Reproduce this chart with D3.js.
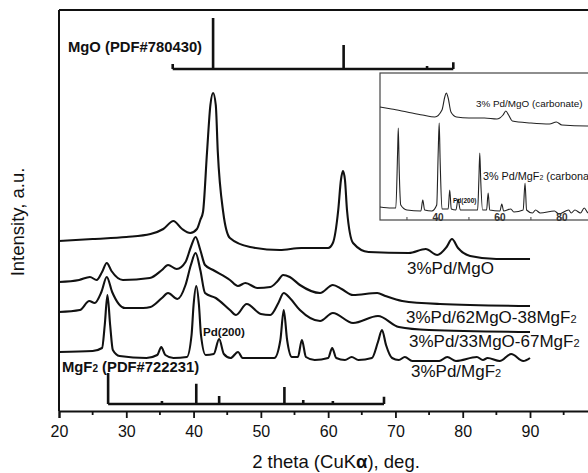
<!DOCTYPE html>
<html>
<head>
<meta charset="utf-8">
<script src="https://cdn.jsdelivr.net/npm/d3@7"></script>
<style>
  html, body { margin: 0; padding: 0; background: #fff; }
  svg { display: block; font-family: "Liberation Sans", Arial, sans-serif; }
  .curve { fill: none; stroke: #111; stroke-width: 2.1; stroke-linejoin: round; }
  .inset-curve { fill: none; stroke: #222; stroke-width: 1.1; stroke-linejoin: round; }
  .ref { fill: none; stroke: #111; stroke-width: 2.6; }
</style>
</head>
<body>
<svg id="chart" width="588" height="473"></svg>
<script>
// 2 theta (deg), intensity (a.u.)
const pdMgO = [
  [20, 170], [25, 172], [30, 174], [33.6, 177], [35.5, 182], [37.0, 190], [38.3, 182],
  [39.5, 178], [40.5, 182], [41.0, 191], [41.4, 199], [42.0, 259], [42.5, 306], [42.9, 318],
  [43.3, 306], [43.6, 259], [44.4, 199], [45.4, 173], [48.4, 164], [52.8, 161], [56, 163],
  [60.0, 163], [60.7, 168], [61.5, 201], [61.9, 231], [62.2, 240], [62.5, 231], [62.8, 201],
  [63.7, 168], [66, 159], [72, 158], [74.5, 162], [76.2, 156], [77.6, 164], [78.4, 172],
  [79.3, 163], [81.1, 155], [85, 152], [90, 152]
];
const pd62MgO = [
  [20, 129], [23.0, 131], [24.6, 134], [25.6, 131], [26.4, 139], [27.1, 148], [27.8, 140],
  [29.5, 131], [33.5, 133], [35.3, 141], [36.2, 146], [37.5, 142], [38.8, 149], [39.6, 164],
  [40.3, 174], [41.0, 161], [41.7, 146], [42.9, 141], [45.4, 131], [46.6, 125], [47.7, 128],
  [49.5, 123], [51.4, 124], [52.5, 130], [53.3, 136], [54.3, 134], [55.8, 126], [58.8, 118],
  [60.7, 126], [62, 122], [63.7, 116], [67.3, 118], [68.5, 115], [71, 110], [76.6, 107], [90, 105]
];
const pd33MgO = [
  [20, 99], [23.1, 101], [24.5, 110], [25.3, 108], [26.3, 119], [27.1, 134], [27.9, 119],
  [29.8, 103], [32.5, 103], [33.6, 104], [35.3, 113], [36.2, 118], [37.6, 112], [38.8, 126],
  [39.6, 146], [40.3, 158], [41.0, 141], [41.7, 118], [43.3, 113], [45.4, 101], [46.3, 96],
  [47.9, 107], [50.0, 97], [51.4, 96], [52.6, 108], [53.4, 118], [54.3, 113], [55.8, 101],
  [58.8, 90], [60.7, 98], [63.7, 88], [67.4, 95], [70.5, 84], [75, 81], [90, 79]
];
const pdMgF2 = [
  [20, 59], [25.0, 60], [26.4, 63], [26.8, 86], [27.2, 116], [27.6, 86], [28.0, 61], [29, 55],
  [33, 53], [34.6, 56], [35.2, 64], [35.8, 56], [37, 53], [39.0, 54], [39.7, 76], [40.0, 106],
  [40.4, 125], [40.8, 106], [41.1, 76], [41.8, 56], [43.0, 57], [43.8, 72], [44.5, 57],
  [45.5, 53], [46.6, 59], [47.3, 53], [52.0, 53], [52.9, 71], [53.4, 101], [53.9, 71],
  [54.6, 54], [55.5, 54], [56.1, 71], [56.7, 54], [58, 51], [60.0, 53], [60.6, 63], [61.2, 53],
  [62.5, 51], [63.5, 54], [64.5, 51], [66.5, 53], [67.4, 69], [68.0, 81], [68.6, 66],
  [69.5, 53], [70.5, 51], [71.4, 54], [72.5, 50], [76.5, 50], [77.7, 54], [79, 50], [82.1, 54],
  [83.0, 51], [83.7, 53], [85.5, 50], [87.2, 57], [89, 50], [90, 53]
];

// reference patterns: positions (deg) and relative intensities
const mgoRefPos = [36.9, 42.9, 62.3, 74.7, 78.6];
const mgoRefInt = [10, 100, 47, 6, 13];
const mgf2RefPos = [27.3, 35.3, 40.4, 43.8, 53.5, 56.3, 60.7, 68.3];
const mgf2RefInt = [100, 10, 65, 26, 55, 13, 10, 23];

// inset (carbonate precursors)
const insetMgO = [
  [21.3, 113], [25, 111], [30, 108], [35, 105], [39, 103], [41.3, 110], [42.2, 123], [42.7, 127],
  [43.3, 122], [44.2, 108], [46, 103], [50, 102], [55, 102], [59, 101], [61.0, 105], [61.9, 109],
  [62.8, 105], [64, 99], [70, 97], [76, 96], [78.2, 98], [80, 95], [88, 94], [91, 94]
];
const insetMgF2 = [
  [21.3, 13], [25, 12], [26.4, 12], [27.0, 70], [27.2, 92], [27.5, 50], [28.0, 15], [30, 10],
  [34.5, 9], [35.1, 20], [35.7, 10], [38, 9], [39.6, 15], [40.1, 70], [40.4, 97], [40.7, 60],
  [41.3, 11], [43.3, 11], [43.8, 30], [44.3, 11], [45.8, 10], [46.5, 21], [47.2, 10], [52.8, 10],
  [53.2, 40], [53.5, 67], [53.8, 40], [54.4, 10], [55.7, 10], [56.2, 27], [56.7, 10], [60.0, 9],
  [60.6, 16], [61.2, 9], [63.5, 11], [64.5, 8], [67.5, 10], [68.1, 37], [68.6, 10], [70.5, 7],
  [71.5, 10], [73, 7], [77.6, 9], [79, 6], [82.2, 10], [83, 7], [84.2, 10], [86, 7], [87.2, 12],
  [88.5, 7], [91, 8]
];
const xTickLabels = [20, 30, 40, 50, 60, 70, 80, 90];
const insetTicks = [30, 40, 50, 60, 70, 80, 90];
const insetTickLabels = [40, 60, 80];

const svg = d3.select('#chart');

const x = d3.scaleLinear().domain([20, 100]).range([59, 597.3]);
const y = d3.scaleLinear().domain([0, 400]).range([411, 11]);

const line = d3.line()
  .x(d => x(d[0]))
  .y(d => y(d[1]))
  .curve(d3.curveMonotoneX);

// frame: top and left edges
svg.append('line')
  .attr('x1', 59).attr('x2', 588).attr('y1', 10).attr('y2', 10)
  .attr('stroke', '#111').attr('stroke-width', 2);
svg.append('line')
  .attr('x1', 59).attr('x2', 59).attr('y1', 10).attr('y2', 411)
  .attr('stroke', '#111').attr('stroke-width', 2);

// bottom axis (100 sits just past the right edge)
const xAxis = svg.append('g')
  .attr('transform', 'translate(0,411)')
  .call(d3.axisBottom(x).tickValues(xTickLabels).tickSize(7).tickPadding(8).tickFormat(d3.format('d')));
xAxis.select('.domain').attr('stroke', '#111').attr('stroke-width', 2);
xAxis.selectAll('.tick line').attr('stroke', '#111').attr('stroke-width', 1.8);
xAxis.selectAll('.tick text')
  .attr('fill', '#111')
  .style('font-size', '16px')
  .style('font-family', '"Liberation Sans", Arial, sans-serif');

svg.append('g')
  .selectAll('line')
  .data(d3.range(25, 100, 10))
  .enter()
  .append('line')
  .attr('x1', d => x(d)).attr('x2', d => x(d))
  .attr('y1', 411).attr('y2', 415)
  .attr('stroke', '#111').attr('stroke-width', 1.8);

// axis titles
const xTitle = svg.append('text')
  .attr('x', 336).attr('y', 468)
  .attr('text-anchor', 'middle')
  .style('font-size', '18.5px')
  .attr('fill', '#111');
xTitle.append('tspan').text('2 theta (CuK');
xTitle.append('tspan').style('font-weight', 'bold').text('α');
xTitle.append('tspan').text('), deg.');

svg.append('text')
  .attr('transform', 'translate(24,222) rotate(-90)')
  .attr('text-anchor', 'middle')
  .style('font-size', '18.5px')
  .attr('fill', '#111')
  .text('Intensity, a.u.');

// reference stick patterns
function refPattern(pos, ints, base, maxH) {
  const h = d3.scaleLinear().domain([0, 100]).range([0, maxH]);
  const p = d3.path();
  const yb = y(base);
  p.moveTo(x(pos[0]), yb);
  p.lineTo(x(pos[pos.length - 1]), yb);
  pos.forEach((d, i) => {
    p.moveTo(x(d), yb);
    p.lineTo(x(d), yb - h(ints[i]));
  });
  svg.append('path').attr('class', 'ref').attr('d', p.toString());
}
refPattern(mgoRefPos, mgoRefInt, 342, 51);
refPattern(mgf2RefPos, mgf2RefInt, 7, 31);

svg.append('text')
  .attr('x', 68).attr('y', 52)
  .style('font-size', '14.8px').style('font-weight', 'bold')
  .attr('fill', '#111')
  .text('MgO (PDF#780430)');

const mgf2Ref = svg.append('text')
  .attr('x', 62).attr('y', 372)
  .style('font-size', '14.8px').style('font-weight', 'bold')
  .attr('fill', '#111');
mgf2Ref.append('tspan').text('MgF');
mgf2Ref.append('tspan').style('font-size', '10px').text('2');
mgf2Ref.append('tspan').text(' (PDF#722231)');

// sample curves
[pdMgO, pd62MgO, pd33MgO, pdMgF2].forEach(s => {
  svg.append('path').datum(s).attr('class', 'curve').attr('d', line);
});

svg.append('text')
  .attr('x', 203).attr('y', 336)
  .style('font-size', '11.6px').style('font-weight', 'bold')
  .attr('fill', '#111')
  .text('Pd(200)');

function sampleLabel(xp, yp, parts) {
  const t = svg.append('text')
    .attr('x', xp).attr('y', yp)
    .style('font-size', '17px')
    .attr('fill', '#111');
  parts.forEach(p => {
    const sp = t.append('tspan').text(p[0]);
    if (p[1]) sp.style('font-size', '11px');
  });
}
sampleLabel(407, 274, [['3%Pd/MgO']]);
sampleLabel(406, 323, [['3%Pd/62MgO-38MgF'], ['2', true]]);
sampleLabel(409, 347, [['3%Pd/33MgO-67MgF'], ['2', true]]);
sampleLabel(411, 377, [['3%Pd/MgF'], ['2', true]]);

// inset
const ix = d3.scaleLinear().domain([21.3, 91]).range([380, 596]);
const iy = d3.scaleLinear().domain([0, 150]).range([220, 70]);
const iline = d3.line()
  .x(d => ix(d[0]))
  .y(d => iy(d[1]))
  .curve(d3.curveMonotoneX);

const inset = svg.append('g');
inset.append('rect')
  .attr('x', 380).attr('y', 73).attr('width', 230).attr('height', 147)
  .attr('fill', '#fff').attr('stroke', '#444').attr('stroke-width', 1.2);

inset.append('path').datum(insetMgO).attr('class', 'inset-curve').attr('d', iline);
inset.append('path').datum(insetMgF2).attr('class', 'inset-curve').attr('stroke', '#333').attr('d', iline);

inset.selectAll('.itick')
  .data(insetTicks)
  .enter()
  .append('line')
  .attr('class', 'itick')
  .attr('x1', d => ix(d)).attr('x2', d => ix(d))
  .attr('y1', 220).attr('y2', 217)
  .attr('stroke', '#444').attr('stroke-width', 1);

inset.selectAll('.ilabel')
  .data(insetTickLabels)
  .enter()
  .append('text')
  .attr('class', 'ilabel')
  .attr('x', d => ix(d)).attr('y', 221)
  .attr('text-anchor', 'middle')
  .style('font-size', '10px').style('font-weight', 'bold')
  .attr('fill', '#333')
  .text(d => d);

inset.append('text')
  .attr('x', 476).attr('y', 107)
  .style('font-size', '9.9px')
  .attr('fill', '#111')
  .text('3% Pd/MgO (carbonate)');

const icarb = inset.append('text')
  .attr('x', 483).attr('y', 180)
  .style('font-size', '10.8px')
  .attr('fill', '#111');
icarb.append('tspan').text('3% Pd/MgF');
icarb.append('tspan').style('font-size', '7px').text('2');
icarb.append('tspan').text(' (carbonate)');

inset.append('text')
  .attr('x', 453).attr('y', 203)
  .style('font-size', '6.5px').style('font-weight', 'bold')
  .attr('fill', '#111')
  .text('Pd(200)');
</script>
</body>
</html>
